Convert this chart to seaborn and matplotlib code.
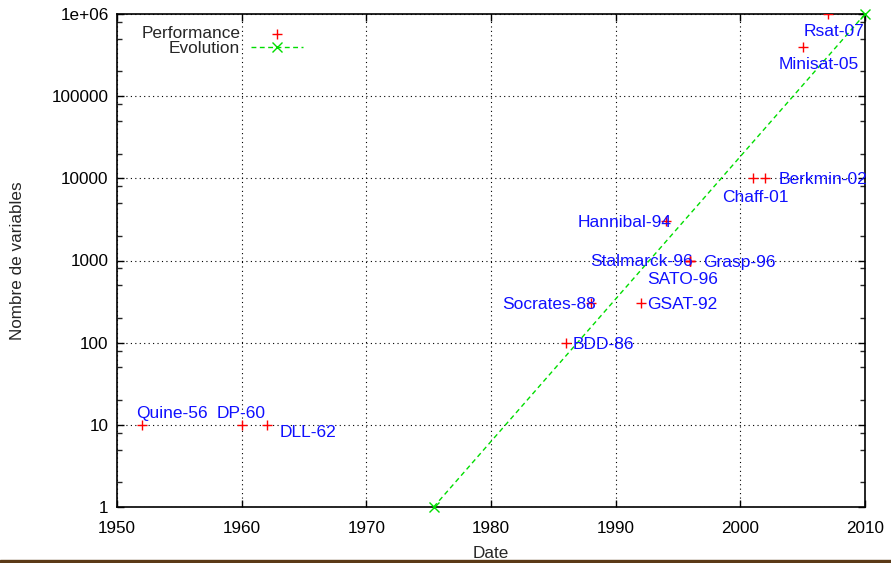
import matplotlib
matplotlib.use("Agg")
import matplotlib.pyplot as plt
import matplotlib.ticker as mticker
import matplotlib.transforms as mtransforms
from matplotlib.patches import Rectangle
import seaborn as sns
import pandas as pd

# ---- data ----
solver_names = ["Quine-56", "DP-60", "DLL-62", "BDD-86", "Socrates-88", "GSAT-92",
                "Hannibal-94", "Stalmarck-96", "SATO-96", "Grasp-96", "Chaff-01",
                "Berkmin-02", "Minisat-05", "Rsat-07"]
solver_years = [1952, 1960, 1962, 1986, 1988, 1992, 1994, 1996, 1996, 1996,
                2001, 2002, 2005, 2007]
solver_vars = [10, 10, 10, 100, 300, 300, 3000, 1000, 1000, 1000,
               10000, 10000, 400000, 1000000]

# label anchor (date, value) and alignment
label_x = [1951.52, 1958.02, 1963.07, 1986.55, 1988.40, 1992.51, 1994.49,
           1996.20, 1992.56, 1997.00, 1998.53, 2003.10, 2003.06, 2009.92]
label_y = [14.3, 14.3, 8.5, 100, 300, 300, 3000, 1000, 617, 1000,
           6100, 10000, 251000, 638000]
label_ha = ["left", "left", "left", "left", "right", "left", "right", "right",
            "left", "left", "left", "left", "left", "right"]

evo_years = [1975.4, 2010]
evo_vars = [1, 1000000]

x_ticks = [1950, 1960, 1970, 1980, 1990, 2000, 2010]
y_ticks = [1, 10, 100, 1000, 10000, 100000, 1000000]
y_tick_labels = ["1", "10", "100", "1000", "10000", "100000", "1e+06"]

# ---- style ----
sns.set_style("ticks")
plt.rcParams["font.family"] = ["Liberation Sans", "DejaVu Sans"]
plt.rcParams["font.size"] = 12.3

fig = plt.figure(figsize=(8.91, 5.63), dpi=100)
ax = fig.add_axes([117 / 891, 56 / 563, 748 / 891, 493 / 563])

perf = pd.DataFrame({"Date": solver_years, "Vars": solver_vars})
evo = pd.DataFrame({"Date": evo_years, "Vars": evo_vars})

ax.set_yscale("log")
ax.set_xlim(1950, 2010)
ax.set_ylim(1, 1000000)

sns.scatterplot(data=perf, x="Date", y="Vars", marker="+", color="#ff0000",
                s=55, linewidth=1.0, ax=ax, label="Performance", zorder=4)
sns.lineplot(data=evo, x="Date", y="Vars", color="#00dd00", linestyle=(0, (3.5, 2.5)),
             linewidth=1.0, marker="x", markersize=7, markeredgewidth=1.0,
             markeredgecolor="#00dd00", markerfacecolor="#00dd00",
             ax=ax, label="Evolution", zorder=3, clip_on=False)

text_tr = mtransforms.offset_copy(ax.transData, fig=fig, x=0, y=-1.5, units="dots")
for name, lx, ly, ha in zip(solver_names, label_x, label_y, label_ha):
    ax.text(lx, ly, name, ha=ha, va="center", color="#1010ff", fontsize=12.5,
            zorder=5, transform=text_tr)

# ticks and grid
ax.xaxis.set_major_locator(mticker.FixedLocator(x_ticks))
ax.yaxis.set_major_locator(mticker.FixedLocator(y_ticks))
ax.yaxis.set_major_formatter(mticker.FixedFormatter(y_tick_labels))
ax.yaxis.set_minor_locator(mticker.LogLocator(base=10, subs=(2, 5, 8)))
ax.yaxis.set_minor_formatter(mticker.NullFormatter())
ax.tick_params(axis="both", which="major", direction="in", length=5, width=1.0,
               top=True, right=True, labelsize=12.3, colors="black")
ax.tick_params(axis="x", which="major", pad=10)
ax.tick_params(axis="y", which="major", pad=6)
ax.tick_params(axis="both", which="minor", direction="in", length=3.5, width=1.0,
               top=True, right=True)
ax.grid(True, which="major", color="black", linestyle=(0, (1, 3)), linewidth=0.8)
for sp in ax.spines.values():
    sp.set_visible(True)
    sp.set_linewidth(1.2)
    sp.set_color("black")

ax.set_xlabel("Date", fontsize=12.3, labelpad=7)
ax.set_ylabel("Nombre de variables", fontsize=12.3, labelpad=19)

leg = ax.legend(loc="upper right", bbox_to_anchor=(0.2487, 0.975), markerfirst=False,
                frameon=False, fontsize=12.4, handlelength=3.0, handletextpad=0.65,
                labelspacing=0.0, borderpad=0, borderaxespad=0)

fig.add_artist(Rectangle((0, 0), 1, 3 / 563, transform=fig.transFigure,
                         color="#5b3a17", zorder=10))

fig.savefig("out.png", dpi=100)
